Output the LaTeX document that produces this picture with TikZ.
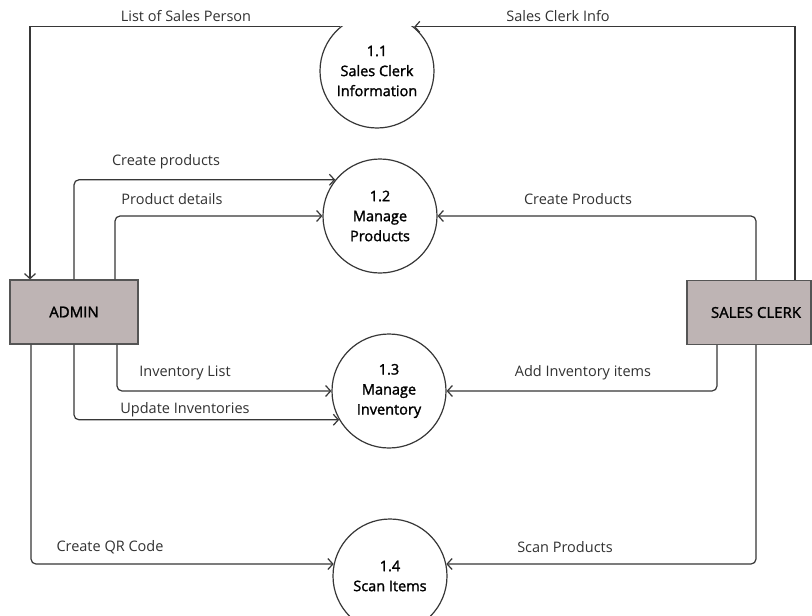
\documentclass[tikz,border=0pt]{standalone}
\usepackage{fontspec}
\setmainfont{Open Sans}
\newfontfamily\semib[FakeBold=1.6]{Open Sans}
\usetikzlibrary{arrows.meta}

\definecolor{boxfill}{RGB}{190,180,180}
\definecolor{boxline}{RGB}{85,85,85}
\definecolor{linegray}{RGB}{55,55,55}
\definecolor{labelgray}{RGB}{50,50,50}

\tikzset{
  flow/.style={draw=linegray, line width=1.2pt, rounded corners=5pt,
    -{Straight Barb[length=5pt,width=11pt]}},
  proc/.style={circle, draw=linegray, line width=1.2pt, minimum size=114pt,
    inner sep=0pt, align=center, text=black,
    font=\fontsize{14.5}{20}\selectfont\semib},
  entity/.style={rectangle, draw=boxline, fill=boxfill, line width=1.2pt,
    minimum height=64pt, inner sep=0pt, text=black,
    font=\fontsize{15}{18}\selectfont\semib},
  lbl/.style={font=\fontsize{14.5}{17}\selectfont, text=labelgray, inner sep=0pt}
}

\begin{document}
\begin{tikzpicture}[x=1pt,y=-1pt]
  % page frame
  \fill[white] (0,0) rectangle (812,616);
  \useasboundingbox (0,0) rectangle (812,616);
  \clip (0,0) rectangle (812,616);

  % external entities
  \node[entity, minimum width=128pt] (admin) at (74,312) {ADMIN};
  \node[entity, minimum width=124pt] (clerk) at (749,312.5) {\hspace*{14pt}SALES CLERK};

  % processes
  \node[proc, draw=none] (p1) at (377,71) {1.1\\Sales Clerk\\Information};
  \begin{scope}
    \clip (250,26) rectangle (500,200);
    \draw[linegray, line width=1.2pt] (p1.center) circle[radius=57];
  \end{scope}
  \node[proc] (p2) at (380,216) {1.2\\Manage\\Products};
  \node[proc] (p3) at (389,391) {1.3\\Manage\\Inventory};
  \node[proc] (p4) at (390,576) {1.4\\Scan Items};

  % corner points of the top loop
  \coordinate (tl) at (30,26);
  \coordinate (tr) at (795,26);

  % flows
  \draw[flow, rounded corners=0] (p1.130) -- (p1.130 -| tl) -- (tl |- admin.north);
  \draw[flow, rounded corners=0] ([xshift=46pt]clerk.north) -- ([xshift=46pt]clerk.north |- p1.50) -- (p1.50);

  \draw[flow] (admin.north) |- (p2.141);
  \draw[flow] ([xshift=41pt]admin.north) |- (p2.west);
  \draw[flow] ([xshift=7pt]clerk.north) |- (p2.east);

  \draw[flow] ([xshift=43pt]admin.south) |- (p3.west);
  \draw[flow] (admin.south) |- (p3.210);
  \draw[flow] ([xshift=-32pt]clerk.south) |- (p3.east);

  \draw[flow] ([xshift=-43pt]admin.south) |- (p4.168);
  \draw[flow] ([xshift=7pt]clerk.south) |- (p4.12);

  % flow labels
  \node[lbl] (l1) at (186,16) {List of Sales Person};
  \node[lbl] (l2) at (558,16) {Sales Clerk Info};
  \node[lbl] (l3) at (166,162) {Create products};
  \node[lbl] (l4) at (172,199) {Product details};
  \node[lbl] (l5) at (578,199) {Create Products};
  \node[lbl] (l6) at (185,373) {Inventory List};
  \node[lbl] (l7) at (185,410) {Update Inventories};
  \node[lbl] (l8) at (583,373) {Add Inventory items};
  \node[lbl] (l9) at (110,547) {Create QR Code};
  \node[lbl] (l10) at (565,547) {Scan Products};
\end{tikzpicture}
\end{document}
